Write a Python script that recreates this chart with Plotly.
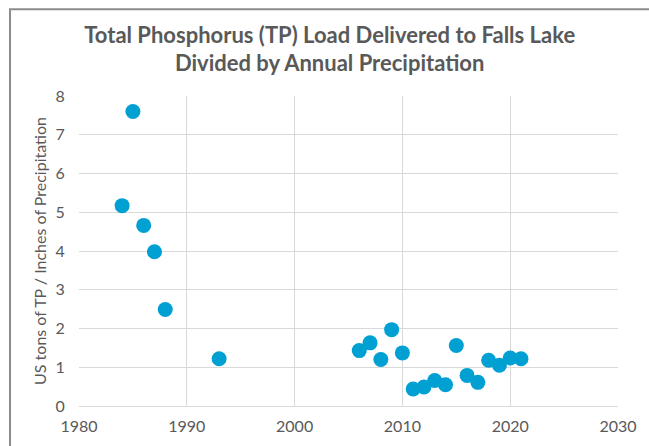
import plotly.graph_objects as go

years = [1984, 1985, 1986, 1987, 1988, 1993, 2006, 2007, 2008, 2009, 2010,
         2011, 2012, 2013, 2014, 2015, 2016, 2017, 2018, 2019, 2020, 2021]
tp_per_inch = [5.17, 7.6, 4.66, 3.98, 2.49, 1.22, 1.43, 1.63, 1.2, 1.97, 1.37,
               0.44, 0.49, 0.66, 0.55, 1.56, 0.79, 0.61, 1.18, 1.05, 1.24, 1.22]

x_ticks = [1980, 1990, 2000, 2010, 2020, 2030]
y_ticks = [0, 1, 2, 3, 4, 5, 6, 7, 8]

grey = "#595959"
grid = "#d9d9d9"

fig = go.Figure(go.Scatter(
    x=years, y=tp_per_inch, mode="markers",
    marker=dict(size=15, color="rgb(0,160,210)", line=dict(width=0)),
))

fig.update_layout(
    width=649, height=446,
    margin=dict(l=79, r=31, t=96, b=40, autoexpand=False),
    paper_bgcolor="white", plot_bgcolor="white",
    showlegend=False,
    font=dict(family="Lato", size=16, color=grey),
    title=dict(
        text="<b>Total Phosphorus (TP) Load Delivered to Falls Lake<br>Divided by Annual Precipitation</b>",
        x=0.508, xanchor="center", y=0.904, yanchor="middle",
        font=dict(family="Lato", size=22, color=grey),
    ),
    xaxis=dict(
        range=[1980, 2030], tickvals=x_ticks, showgrid=True, gridcolor=grid,
        gridwidth=1, zeroline=False, showline=True, linecolor=grid, mirror=False,
        ticks="outside", ticklen=6, tickcolor="rgba(0,0,0,0)", automargin=False,
        tickfont=dict(size=16, color=grey),
    ),
    yaxis=dict(
        range=[0, 8], tickvals=y_ticks, showgrid=True, gridcolor=grid,
        gridwidth=1, zeroline=False, showline=False, automargin=False,
        ticks="outside", ticklen=10, tickcolor="rgba(0,0,0,0)",
        tickfont=dict(size=16, color=grey),
        title=dict(text="US tons of TP / Inches of Precipitation",
                   font=dict(size=16, color=grey), standoff=4),
    ),
    shapes=[
        dict(type="rect", xref="paper", yref="paper", x0=-0.128, x1=1.2,
             y0=-0.3, y1=1.28, line=dict(color="#8c8c8c", width=2),
             fillcolor="rgba(0,0,0,0)", layer="above"),
    ],
)

fig.write_html("out.html", config={"displayModeBar": False},
               post_script="document.body.style.margin='0';")
